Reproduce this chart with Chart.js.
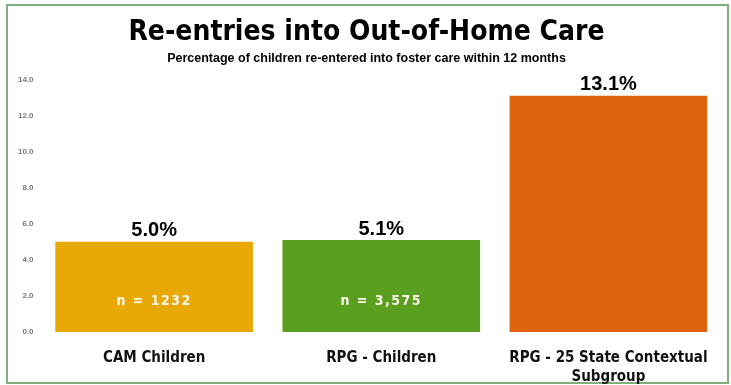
<!DOCTYPE html>
<html>
<head>
<meta charset="utf-8">
<script src="https://cdn.jsdelivr.net/npm/chart.js@4/dist/chart.umd.min.js"></script>
<style>
  html, body { margin: 0; padding: 0; background: #fff; }
  #wrap { width: 731px; height: 385px; }
</style>
</head>
<body>
<div id="wrap"><canvas id="chart"></canvas></div>
<script>
const categories = ["CAM Children", "RPG - Children", ["RPG - 25 State Contextual", "Subgroup"]];
const reentryPct = [5.0, 5.1, 13.1];
const sampleSizes = ["n = 1232", "n = 3,575", ""];
const barColors = ["#e8a805", "#5b9f20", "#dd640c"];
const yTicks = [0, 2, 4, 6, 8, 10, 12, 14];

const condensed = "'DejaVu Sans Condensed', 'DejaVu Sans', sans-serif";
const arial = "'Liberation Sans', Arial, sans-serif";

// thin green frame like the scanned page
const frame = {
  id: "frame",
  beforeDraw(chart) {
    const ctx = chart.ctx;
    ctx.save();
    ctx.strokeStyle = "#7fb07f";
    ctx.lineWidth = 2;
    ctx.strokeRect(7, 5, 721, 378);
    ctx.restore();
  },
};

const barLabels = {
  id: "barLabels",
  afterDatasetsDraw(chart) {
    const ctx = chart.ctx;
    const meta = chart.getDatasetMeta(0);
    const base = chart.scales.y.getPixelForValue(0);
    ctx.save();
    ctx.textAlign = "center";
    meta.data.forEach((bar, i) => {
      ctx.font = "bold 20px " + arial;
      ctx.fillStyle = "#000";
      ctx.textBaseline = "bottom";
      ctx.fillText(reentryPct[i].toFixed(1) + "%", bar.x, bar.y - 1);

      if (sampleSizes[i]) {
        ctx.font = "bold 14px " + condensed;
        ctx.fillStyle = "#fbf6e6";
        ctx.textBaseline = "middle";
        ctx.letterSpacing = "1.5px";
        ctx.fillText(sampleSizes[i], bar.x, base - 31);
        ctx.letterSpacing = "0px";
      }
    });
    ctx.restore();
  },
};

new Chart(document.getElementById("chart"), {
  type: "bar",
  data: {
    labels: categories,
    datasets: [
      {
        data: reentryPct,
        backgroundColor: barColors,
        borderWidth: 0,
        barPercentage: 0.87,
        categoryPercentage: 1,
      },
    ],
  },
  options: {
    responsive: true,
    maintainAspectRatio: false,
    animation: false,
    layout: { padding: { left: 11, right: 9, top: 6, bottom: 0 } },
    scales: {
      x: {
        grid: { display: false, drawTicks: false },
        border: { display: false },
        afterFit(axis) {
          axis.height = 53;
        },
        ticks: {
          color: "#111",
          padding: 17,
          font: { family: condensed, size: 15, weight: "bold", lineHeight: 1.25 },
          maxRotation: 0,
        },
      },
      y: {
        min: 0,
        max: 14,
        grid: { display: false, drawTicks: false },
        border: { display: false },
        afterBuildTicks(axis) {
          axis.ticks = yTicks.map((v) => ({ value: v }));
        },
        ticks: {
          color: "#777",
          padding: 7,
          font: { family: arial, size: 8, weight: "bold" },
          callback: (v) => Number(v).toFixed(1),
        },
      },
    },
    plugins: {
      legend: { display: false },
      tooltip: { enabled: false },
      title: {
        display: true,
        text: "Re-entries into Out-of-Home Care",
        color: "#000",
        font: { family: condensed, size: 28, weight: "bold" },
        padding: { top: 10, bottom: 0 },
      },
      subtitle: {
        display: true,
        text: "Percentage of children re-entered into foster care within 12 months",
        color: "#000",
        font: { family: arial, size: 12.5, weight: "bold" },
        padding: { top: 1, bottom: 14 },
      },
    },
  },
  plugins: [frame, barLabels],
});
</script>
</body>
</html>
